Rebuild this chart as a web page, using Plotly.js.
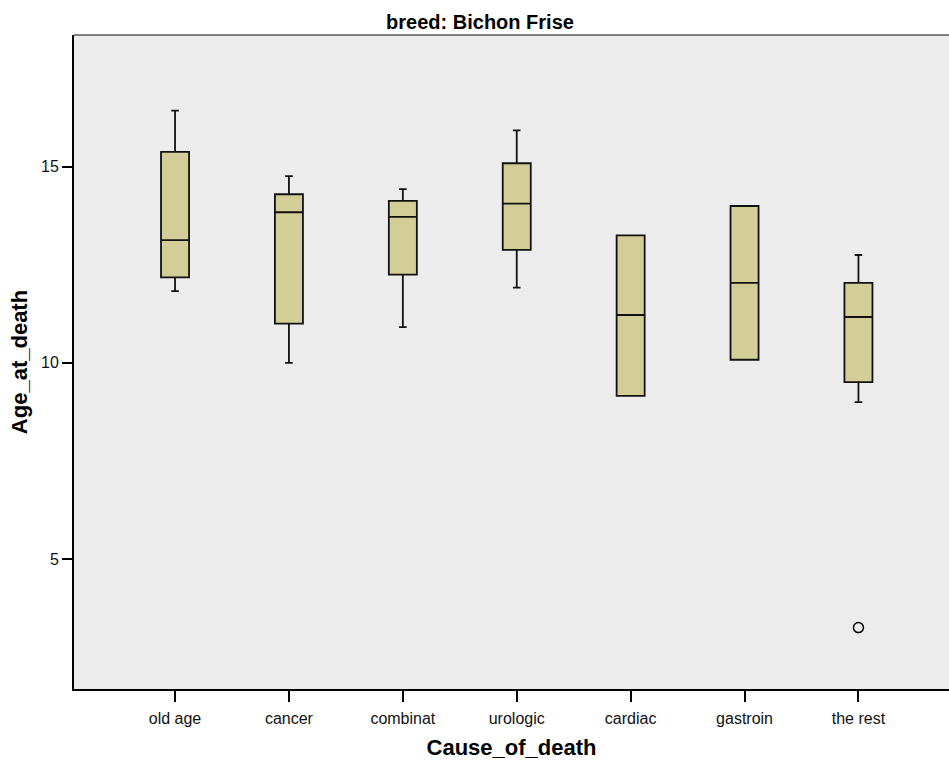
<!DOCTYPE html>
<html>
<head>
<meta charset="utf-8">
<script src="https://cdn.plot.ly/plotly-3.0.1.min.js"></script>
<style>html,body{margin:0;padding:0;background:#fff;}#chart{width:949px;height:760px;}</style>
</head>
<body>
<div id="chart"></div>
<script>
var categories = ["old age", "cancer", "combinat", "urologic", "cardiac", "gastroin", "the rest"];
var lowerWhisker = [11.83, 10.00, 10.91, 11.92, 9.16, 10.08, 9.00];
var q1Values     = [12.18, 11.00, 12.25, 12.88, 9.16, 10.08, 9.51];
var medianValues = [13.13, 13.84, 13.72, 14.06, 11.22, 12.04, 11.17];
var q3Values     = [15.38, 14.30, 14.13, 15.09, 13.25, 14.00, 12.04];
var upperWhisker = [16.43, 14.76, 14.43, 15.93, 13.25, 14.00, 12.75];
var outlierCategory = ["the rest"];
var outlierValues = [3.25];
var yTickValues = [5, 10, 15];

var boxTrace = {
  type: "box",
  x: categories,
  q1: q1Values,
  median: medianValues,
  q3: q3Values,
  lowerfence: lowerWhisker,
  upperfence: upperWhisker,
  fillcolor: "#D3CE97",
  line: {color: "#111111", width: 1.8},
  width: 0.246,
  whiskerwidth: 0.27,
  boxpoints: false,
  showlegend: false,
  hoverinfo: "y"
};

var outlierTrace = {
  type: "scatter",
  mode: "markers",
  x: outlierCategory,
  y: outlierValues,
  marker: {symbol: "circle-open", size: 10, color: "#000", line: {color: "#000", width: 1.5}},
  showlegend: false
};

var layout = {
  width: 949,
  height: 760,
  margin: {l: 74, r: 0, t: 35, b: 71, pad: 0},
  paper_bgcolor: "#ffffff",
  plot_bgcolor: "#ECECEC",
  font: {family: "Liberation Sans, Arial, sans-serif", color: "#111"},
  title: {
    text: "breed: Bichon Frise",
    font: {size: 20, weight: "bold", color: "#000"},
    x: 480 / 949, xanchor: "center", xref: "container",
    y: 1 - 22 / 760, yanchor: "middle", yref: "container"
  },
  xaxis: {
    type: "category",
    categoryorder: "array",
    categoryarray: categories,
    range: [-0.887, 6.795],
    showline: true, linecolor: "#000", linewidth: 2,
    ticks: "outside", ticklen: 11, tickwidth: 2, tickcolor: "#000",
    tickfont: {size: 16, color: "#111"},
    ticklabelstandoff: 3,
    showgrid: false, zeroline: false,
    automargin: false,
    title: {text: "Cause_of_death", font: {size: 22, weight: "bold", color: "#000"}, standoff: 14}
  },
  yaxis: {
    range: [1.684, 18.36],
    tickvals: yTickValues,
    showline: true, linecolor: "#000", linewidth: 2,
    ticks: "outside", ticklen: 10, tickwidth: 2, tickcolor: "#000",
    tickfont: {size: 16, color: "#111"},
    showgrid: false, zeroline: false,
    automargin: false,
    title: {text: "Age_at_death", font: {size: 22, weight: "bold", color: "#000"}, standoff: 7}
  },
  shapes: [{
    type: "line", xref: "paper", yref: "paper",
    x0: 0, x1: 1, y0: 1, y1: 1,
    line: {color: "#555", width: 1.5}
  }]
};

Plotly.newPlot("chart", [boxTrace, outlierTrace], layout, {displayModeBar: false, staticPlot: true});
</script>
</body>
</html>
